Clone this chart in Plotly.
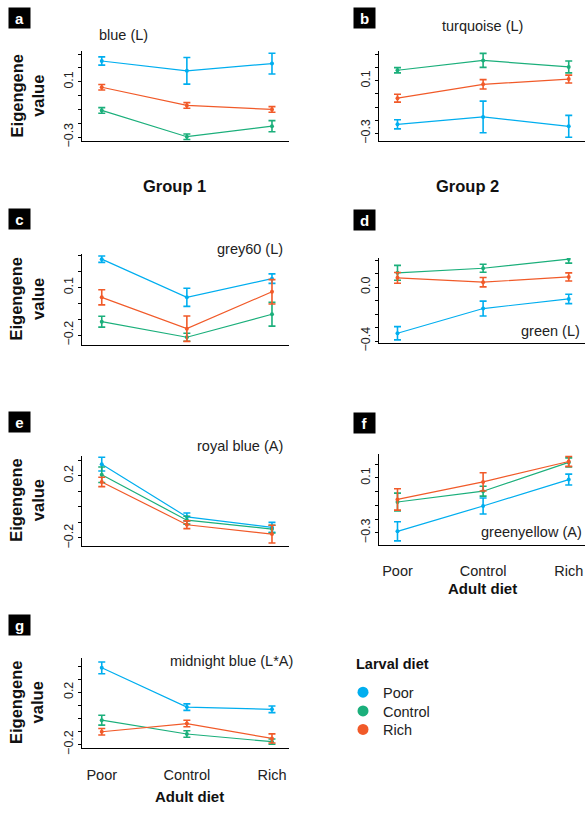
import plotly.graph_objects as go

# ---------------- data ----------------
adult_diet = ["Poor", "Control", "Rich"]
larval_groups = ["Poor", "Control", "Rich"]
colors = {"Poor": "#00AEEF", "Control": "#1BAF7B", "Rich": "#F15A29"}

# a: blue (L)
a_poor = [0.250, 0.179, 0.231];    a_poor_err = [0.030, 0.096, 0.075]
a_control = [-0.107, -0.297, -0.221]; a_control_err = [0.020, 0.020, 0.040]
a_rich = [0.060, -0.071, -0.100];  a_rich_err = [0.020, 0.020, 0.020]
# b: turquoise (L)
b_poor = [-0.231, -0.175, -0.246]; b_poor_err = [0.035, 0.120, 0.083]
b_control = [0.180, 0.255, 0.205]; b_control_err = [0.020, 0.053, 0.045]
b_rich = [-0.032, 0.073, 0.113];   b_rich_err = [0.030, 0.036, 0.030]
# c: grey60 (L)
c_poor = [0.279, 0.038, 0.156];    c_poor_err = [0.020, 0.057, 0.030]
c_control = [-0.116, -0.214, -0.069]; c_control_err = [0.034, 0.025, 0.075]
c_rich = [0.038, -0.160, 0.073];   c_rich_err = [0.048, 0.080, 0.077]
# d: green (L)
d_poor = [-0.342, -0.159, -0.088]; d_poor_err = [0.049, 0.055, 0.035]
d_control = [0.105, 0.139, 0.207]; d_control_err = [0.055, 0.030, 0.030]
d_rich = [0.068, 0.036, 0.075];    d_rich_err = [0.040, 0.035, 0.030]
# e: royal blue (A)
e_poor = [0.274, -0.065, -0.132];  e_poor_err = [0.044, 0.025, 0.032]
e_control = [0.206, -0.086, -0.143]; e_control_err = [0.050, 0.025, 0.025]
e_rich = [0.160, -0.115, -0.175];  e_rich_err = [0.030, 0.025, 0.057]
# f: greenyellow (A)
f_poor = [-0.290, -0.105, 0.088];  f_poor_err = [0.070, 0.058, 0.040]
f_control = [-0.076, 0.003, 0.213]; f_control_err = [0.065, 0.036, 0.033]
f_rich = [-0.057, 0.071, 0.220];   f_rich_err = [0.078, 0.067, 0.036]
# g: midnight blue (L*A)
g_poor = [0.387, 0.086, 0.069];    g_poor_err = [0.045, 0.025, 0.025]
g_control = [-0.014, -0.120, -0.179]; g_control_err = [0.038, 0.025, 0.020]
g_rich = [-0.103, -0.040, -0.154]; g_rich_err = [0.025, 0.025, 0.035]

# tick values and labels
a_ticks = [-0.3, -0.2, -0.1, 0.0, 0.1, 0.2, 0.3]; a_labels = ["−0.3", "", "", "", "0.1", "", ""]
b_ticks = [-0.3, -0.2, -0.1, 0.0, 0.1, 0.2, 0.3]; b_labels = ["−0.3", "", "", "", "0.1", "", ""]
c_ticks = [-0.2, -0.1, 0.0, 0.1, 0.2, 0.3];       c_labels = ["−0.2", "", "", "0.1", "", ""]
d_ticks = [-0.4, -0.3, -0.2, -0.1, 0.0, 0.1, 0.2]; d_labels = ["−0.4", "", "", "", "0.0", "", ""]
e_ticks = [-0.2, -0.1, 0.0, 0.1, 0.2, 0.3];       e_labels = ["−0.2", "", "", "", "0.2", ""]
f_ticks = [-0.3, -0.2, -0.1, 0.0, 0.1, 0.2];      f_labels = ["−0.3", "", "", "", "0.1", ""]
g_ticks = [-0.2, -0.1, 0.0, 0.1, 0.2, 0.3, 0.4];  g_labels = ["−0.2", "", "", "", "0.2", "", ""]

# ---------------- layout helpers ----------------
W, H = 585, 814
FONT = "Liberation Sans, Arial, Helvetica, sans-serif"


def px(x):
    return x / W


def py(y):
    return 1 - y / H


LEFT = (82, 289, [-0.232, 2.2])
RIGHT = (379, 585, [-0.216, 2.19])

panels = [
    dict(letter="a", title="blue (L)",
         series=[(a_poor, a_poor_err), (a_control, a_control_err), (a_rich, a_rich_err)],
         ticks=a_ticks, labels=a_labels, col=LEFT, top=52, bottom=143, yr=[-0.331, 0.319],
         tpos=(97, 35, "left"), box=(19.5, 18), xlab=False),
    dict(letter="b", title="turquoise (L)",
         series=[(b_poor, b_poor_err), (b_control, b_control_err), (b_rich, b_rich_err)],
         ticks=b_ticks, labels=b_labels, col=RIGHT, top=52, bottom=143, yr=[-0.361, 0.323],
         tpos=(440, 26.5, "left"), box=(364.5, 18), xlab=False),
    dict(letter="c", title="grey60 (L)",
         series=[(c_poor, c_poor_err), (c_control, c_control_err), (c_rich, c_rich_err)],
         ticks=c_ticks, labels=c_labels, col=LEFT, top=256.7, bottom=349, yr=[-0.264, 0.3125],
         tpos=(285, 252, "right"), box=(19.5, 221), xlab=False),
    dict(letter="d", title="green (L)",
         series=[(d_poor, d_poor_err), (d_control, d_control_err), (d_rich, d_rich_err)],
         ticks=d_ticks, labels=d_labels, col=RIGHT, top=261, bottom=346.7, yr=[-0.413, 0.214],
         tpos=(582, 335, "right"), box=(364.5, 222), xlab=False),
    dict(letter="e", title="royal blue (A)",
         series=[(e_poor, e_poor_err), (e_control, e_control_err), (e_rich, e_rich_err)],
         ticks=e_ticks, labels=e_labels, col=LEFT, top=461, bottom=551.7, yr=[-0.249, 0.327],
         tpos=(285, 450.7, "right"), box=(19.5, 427), xlab=False),
    dict(letter="f", title="greenyellow (A)",
         series=[(f_poor, f_poor_err), (f_control, f_control_err), (f_rich, f_rich_err)],
         ticks=f_ticks, labels=f_labels, col=RIGHT, top=459.3, bottom=550.7, yr=[-0.387, 0.273],
         tpos=(584, 538, "right"), box=(364.5, 427.5), xlab=True),
    dict(letter="g", title="midnight blue (L*A)",
         series=[(g_poor, g_poor_err), (g_control, g_control_err), (g_rich, g_rich_err)],
         ticks=g_ticks, labels=g_labels, col=LEFT, top=665, bottom=756.7, yr=[-0.23, 0.465],
         tpos=(168, 668, "left"), box=(19.5, 632), xlab=True),
]

fig = go.Figure()
annotations = []

for i, p in enumerate(panels):
    n = "" if i == 0 else str(i + 1)
    xa, ya = "x" + n, "y" + n
    x0, x1, xr = p["col"]
    for grp, (vals, errs) in zip(larval_groups, p["series"]):
        c = colors[grp]
        fig.add_trace(go.Scatter(
            x=adult_diet, y=vals, xaxis=xa, yaxis=ya, mode="lines+markers",
            line=dict(color=c, width=1.2),
            marker=dict(color=c, size=4),
            error_y=dict(type="data", array=errs, visible=True, color=c, thickness=1.6, width=3.5),
            showlegend=False, hoverinfo="x+y", name=grp,
        ))
    xaxis = dict(
        domain=[px(x0), px(x1)], anchor=ya, type="category",
        categoryorder="array", categoryarray=adult_diet, range=xr,
        showline=True, linecolor="black", linewidth=1.3, showgrid=False, zeroline=False,
        ticks="outside" if p["xlab"] else "", ticklen=13, tickcolor="rgba(0,0,0,0)",
        showticklabels=p["xlab"], tickfont=dict(family=FONT, size=14.5, color="#222"),
        fixedrange=True,
    )
    yaxis = dict(
        domain=[py(p["bottom"]), py(p["top"])], anchor=xa, range=p["yr"],
        tickmode="array", tickvals=p["ticks"], ticktext=p["labels"],
        ticks="outside", ticklen=3, tickwidth=1.3, tickcolor="black",
        showline=True, linecolor="black", linewidth=1.3, showgrid=False, zeroline=False,
        tickangle=-90, tickfont=dict(family=FONT, size=12.5, color="#222"),
        fixedrange=True,
    )
    fig.layout["xaxis" + n] = xaxis
    fig.layout["yaxis" + n] = yaxis

    tx, ty, anc = p["tpos"]
    annotations.append(dict(text=p["title"], x=px(tx), y=py(ty), xref="paper", yref="paper",
                            xanchor=anc, yanchor="middle", showarrow=False,
                            font=dict(family=FONT, size=14.5, color="#222")))
    bx, by = p["box"]
    annotations.append(dict(text="<b>%s</b>" % p["letter"], x=px(bx), y=py(by), xref="paper", yref="paper",
                            xanchor="center", yanchor="middle", showarrow=False,
                            bgcolor="black", width=19, height=18,
                            font=dict(family=FONT, size=15, color="white")))
    if p["col"] is LEFT:
        annotations.append(dict(text="<b>Eigengene<br>value</b>", x=px(27), y=py((p["top"] + p["bottom"]) / 2),
                                xref="paper", yref="paper", xanchor="center", yanchor="middle",
                                textangle=-90, showarrow=False,
                                font=dict(family=FONT, size=16.5, color="#111")))
    if p["xlab"]:
        annotations.append(dict(text="<b>Adult diet</b>", x=px((x0 + x1) / 2 + (0 if p["col"] is RIGHT else 4)),
                                y=py(p["bottom"] + 44.5 if p["col"] is RIGHT else p["bottom"] + 49),
                                xref="paper", yref="paper", xanchor="center", yanchor="middle", showarrow=False,
                                font=dict(family=FONT, size=15, color="#111")))

annotations.append(dict(text="<b>Group 1</b>", x=px(174), y=py(188), xref="paper", yref="paper",
                        xanchor="center", yanchor="middle", showarrow=False,
                        font=dict(family=FONT, size=16.5, color="#111")))
annotations.append(dict(text="<b>Group 2</b>", x=px(467), y=py(188), xref="paper", yref="paper",
                        xanchor="center", yanchor="middle", showarrow=False,
                        font=dict(family=FONT, size=16.5, color="#111")))
annotations.append(dict(text="<b>Larval diet</b>", x=px(354), y=py(671.5), xref="paper", yref="paper",
                        xanchor="left", yanchor="middle", showarrow=False,
                        font=dict(family=FONT, size=14.5, color="#111")))

# legend entries: one small legend per larval group, stacked
legend_rows = [692.3, 711.3, 730.0]
legend_names = ["legend", "legend2", "legend3"]
for grp, lname, row in zip(larval_groups, legend_names, legend_rows):
    fig.add_trace(go.Scatter(x=[None], y=[None], mode="markers", name=grp, legend=lname,
                             marker=dict(color=colors[grp], size=11), showlegend=True))
    fig.layout[lname] = dict(x=px(343), y=py(row - 8.5), xanchor="left", yanchor="top",
                             font=dict(family=FONT, size=14.5, color="#222"),
                             bgcolor="rgba(0,0,0,0)", itemsizing="trace")

fig.update_layout(
    width=W, height=H, margin=dict(l=0, r=0, t=0, b=0),
    paper_bgcolor="white", plot_bgcolor="white",
    font=dict(family=FONT, color="#222"),
    annotations=annotations,
)

fig.write_html("out.html")
